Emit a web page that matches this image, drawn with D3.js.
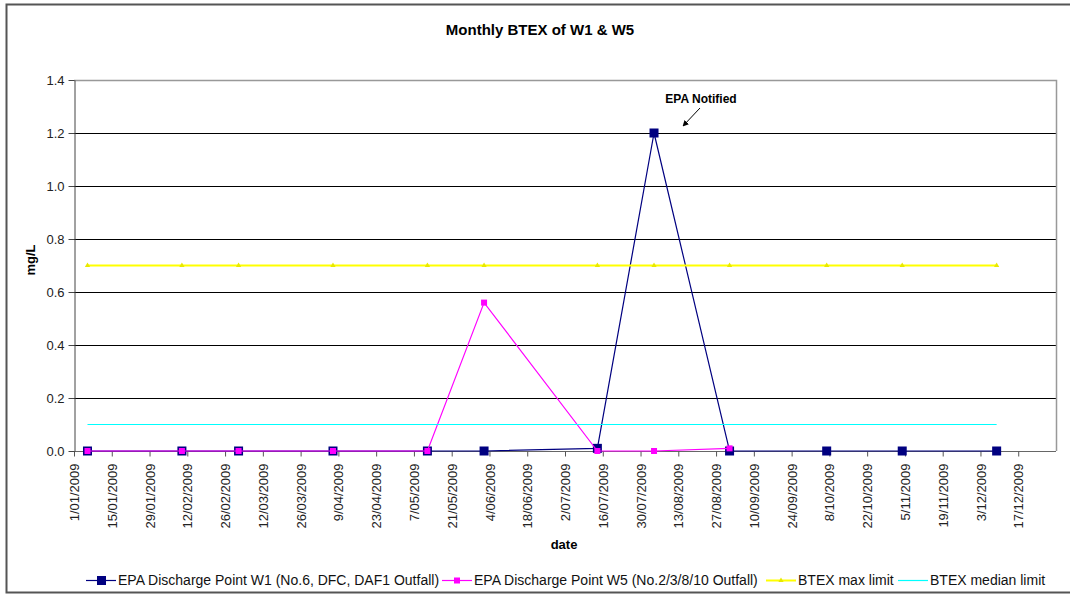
<!DOCTYPE html>
<html>

<head>
    <meta http-equiv="Content-Type" content="text/html;" charset="utf-8">
    <script type="text/javascript" src="https://cdn.jsdelivr.net/npm/d3@7/dist/d3.min.js"></script>
    <style>
        body { margin: 0; background: #fff; }
        text { font-family: Arial, "Liberation Sans", sans-serif; }
    </style>
</head>

<body>
    <div class="chart-div"></div>
    <script type="text/javascript">

        var width = 1070;
        var height = 596;

        //--------------------------------------------DATA

        var w1Dates = ["06/01/2009", "10/02/2009", "03/03/2009", "07/04/2009", "12/05/2009", "02/06/2009",
            "14/07/2009", "04/08/2009", "01/09/2009", "07/10/2009", "04/11/2009", "09/12/2009"]
        var w1Values = [0, 0, 0, 0, 0, 0, 0.01, 1.2, 0, 0, 0, 0]

        var w5Dates = ["06/01/2009", "10/02/2009", "03/03/2009", "07/04/2009", "12/05/2009", "02/06/2009",
            "14/07/2009", "04/08/2009", "01/09/2009"]
        var w5Values = [0, 0, 0, 0, 0, 0.56, 0, 0, 0.01]

        var maxLimit = 0.7
        var medianLimit = 0.1

        var yTicks = [0, 0.2, 0.4, 0.6, 0.8, 1.0, 1.2, 1.4]
        var xStart = "01/01/2009"
        var xEnd = "31/12/2009"
        var tickStepDays = 14

        var legendNames = ["EPA Discharge Point W1 (No.6, DFC, DAF1 Outfall)",
            "EPA Discharge Point W5 (No.2/3/8/10 Outfall)", "BTEX max limit", "BTEX median limit"]

        var parse = d3.timeParse("%d/%m/%Y")
        var fmt = d3.timeFormat("%-d/%m/%Y")

        var w1 = w1Dates.map(function (d, i) { return { date: parse(d), value: w1Values[i] }; })
        var w5 = w5Dates.map(function (d, i) { return { date: parse(d), value: w5Values[i] }; })
        var maxData = w1Dates.map(function (d) { return { date: parse(d), value: maxLimit }; })
        var medData = w1Dates.map(function (d) { return { date: parse(d), value: medianLimit }; })

        //--------------------------------------------CONTAINERS

        var svg = d3.select("div.chart-div")
            .append("svg")
            .attr("width", width)
            .attr("height", height);

        // outer chart frame
        svg.append("rect")
            .attr("x", 6.5)
            .attr("y", 4.5)
            .attr("width", width + 10)
            .attr("height", 588)
            .attr("fill", "#fff")
            .attr("stroke", "#555")
            .attr("stroke-width", 2);

        var x = d3.scaleTime()
            .domain([parse(xStart), parse(xEnd)])
            .range([74, 1056]);

        var y = d3.scaleLinear()
            .domain([0, 1.4])
            .range([451, 80]);

        //--------------------------------------------GRID

        var grid = svg.append("g")

        grid.selectAll("line.grid")
            .data(yTicks.filter(function (d) { return d > 0 && d < 1.4; }))
            .enter().append("line")
            .attr("class", "grid")
            .attr("x1", x.range()[0])
            .attr("x2", x.range()[1])
            .attr("y1", function (d) { return Math.round(y(d)) + 0.5; })
            .attr("y2", function (d) { return Math.round(y(d)) + 0.5; })
            .attr("stroke", "#000")
            .attr("stroke-width", 1);

        // plot area border, top and right
        grid.append("path")
            .attr("d", "M" + x.range()[0] + "," + (y(1.4) + 0.5) + "H" + (x.range()[1] + 0.5) + "V" + y(0))
            .attr("fill", "none")
            .attr("stroke", "#999")
            .attr("stroke-width", 1.5);

        //--------------------------------------------AXES

        var xAxis = d3.axisBottom(x)
            .tickValues(d3.timeDay.range(parse(xStart), parse(xEnd), tickStepDays))
            .tickFormat(fmt)
            .tickSizeInner(5)
            .tickSizeOuter(0);

        var yAxis = d3.axisLeft(y)
            .tickValues(yTicks)
            .tickFormat(d3.format(".1f"))
            .tickSizeInner(6)
            .tickSizeOuter(0);

        var gx = svg.append("g")
            .attr("class", "xaxis")
            .attr("transform", "translate(0," + (y(0) + 0.5) + ")")
            .call(xAxis);

        gx.select(".domain").attr("stroke", "#666").attr("d", "M" + x.range()[0] + ",0H" + x.range()[1]);
        gx.selectAll(".tick line").attr("stroke", "#555");
        gx.selectAll(".tick text")
            .attr("transform", "rotate(-90)")
            .attr("x", -12)
            .attr("y", 0)
            .attr("dy", "0.35em")
            .style("text-anchor", "end")
            .attr("font-size", 13)
            .attr("fill", "#222");

        var gy = svg.append("g")
            .attr("class", "yaxis")
            .attr("transform", "translate(" + (x.range()[0] + 0.5) + ",0)")
            .call(yAxis);

        gy.select(".domain").attr("stroke", "#444");
        gy.selectAll(".tick line").attr("stroke", "#444");
        gy.selectAll(".tick text")
            .attr("x", -10)
            .attr("font-size", 13)
            .attr("fill", "#222");

        //--------------------------------------------LINES AND MARKERS

        var theline = d3.line()
            .x(function (d) { return x(d.date); })
            .y(function (d) { return y(d.value); });

        var series = svg.append("g")

        series.append("path")
            .attr("d", theline(w1))
            .attr("fill", "none")
            .attr("stroke", "#000080")
            .attr("stroke-width", 1.2);

        series.selectAll("rect.w1")
            .data(w1)
            .enter().append("rect")
            .attr("class", "w1")
            .attr("x", function (d) { return x(d.date) - 4.5; })
            .attr("y", function (d) { return y(d.value) - 4.5; })
            .attr("width", 9)
            .attr("height", 9)
            .attr("fill", "#000080");

        series.append("path")
            .attr("d", theline(w5))
            .attr("fill", "none")
            .attr("stroke", "#ff00ff")
            .attr("stroke-width", 1.2);

        series.selectAll("rect.w5")
            .data(w5)
            .enter().append("rect")
            .attr("class", "w5")
            .attr("x", function (d) { return x(d.date) - 3; })
            .attr("y", function (d) { return y(d.value) - 3; })
            .attr("width", 6)
            .attr("height", 6)
            .attr("fill", "#ff00ff");

        series.append("path")
            .attr("d", theline(maxData))
            .attr("fill", "none")
            .attr("stroke", "#ffff00")
            .attr("stroke-width", 2);

        series.selectAll("path.maxmark")
            .data(maxData)
            .enter().append("path")
            .attr("class", "maxmark")
            .attr("transform", function (d) { return "translate(" + x(d.date) + "," + y(d.value) + ")"; })
            .attr("d", d3.symbol().type(d3.symbolTriangle).size(12))
            .attr("fill", "#e8e800");

        series.append("path")
            .attr("d", theline(medData))
            .attr("fill", "none")
            .attr("stroke", "#00ffff")
            .attr("stroke-width", 1.2);

        //--------------------------------------------TEXTS

        svg.append("text")
            .attr("x", 540)
            .attr("y", 35)
            .style("text-anchor", "middle")
            .attr("font-size", 15)
            .attr("font-weight", "bold")
            .text("Monthly BTEX of W1 & W5");

        svg.append("text")
            .attr("transform", "translate(35,260) rotate(-90)")
            .style("text-anchor", "middle")
            .attr("font-size", 13)
            .attr("font-weight", "bold")
            .text("mg/L");

        svg.append("text")
            .attr("x", 564)
            .attr("y", 549)
            .style("text-anchor", "middle")
            .attr("font-size", 13)
            .attr("font-weight", "bold")
            .text("date");

        // annotation for the peak
        svg.append("text")
            .attr("x", 701)
            .attr("y", 103)
            .style("text-anchor", "middle")
            .attr("font-size", 12)
            .attr("font-weight", "bold")
            .text("EPA Notified");

        svg.append("defs").append("marker")
            .attr("id", "arrow")
            .attr("viewBox", "0 0 10 10")
            .attr("refX", 9)
            .attr("refY", 5)
            .attr("markerWidth", 6)
            .attr("markerHeight", 6)
            .attr("orient", "auto")
            .append("path")
            .attr("d", "M0,0L10,5L0,10z")
            .attr("fill", "#000");

        svg.append("line")
            .attr("x1", 700)
            .attr("y1", 108)
            .attr("x2", 683)
            .attr("y2", 126)
            .attr("stroke", "#000")
            .attr("stroke-width", 1)
            .attr("marker-end", "url(#arrow)");

        //--------------------------------------------LEGEND

        var legendX = [86, 442, 766, 898]
        var legendColors = ["#000080", "#ff00ff", "#ffff00", "#00ffff"]
        var legend = svg.append("g").attr("transform", "translate(0,580)")

        legendNames.forEach(function (name, i) {
            var g = legend.append("g").attr("transform", "translate(" + legendX[i] + ",0)")
            g.append("line")
                .attr("x1", 0).attr("x2", 30)
                .attr("y1", 0.5).attr("y2", 0.5)
                .attr("stroke", legendColors[i])
                .attr("stroke-width", i == 2 ? 2 : 1.2);
            if (i == 0) {
                g.append("rect").attr("x", 11).attr("y", -4).attr("width", 9).attr("height", 9).attr("fill", legendColors[i]);
            } else if (i == 1) {
                g.append("rect").attr("x", 12).attr("y", -2.5).attr("width", 6).attr("height", 6).attr("fill", legendColors[i]);
            } else if (i == 2) {
                g.append("path").attr("transform", "translate(15,0.5)")
                    .attr("d", d3.symbol().type(d3.symbolTriangle).size(12)).attr("fill", "#e8e800");
            }
            g.append("text")
                .attr("x", 32)
                .attr("y", 0)
                .attr("dy", "0.35em")
                .attr("font-size", 14)
                .attr("fill", "#111")
                .text(name);
        });

    </script>

</body>

</html>
